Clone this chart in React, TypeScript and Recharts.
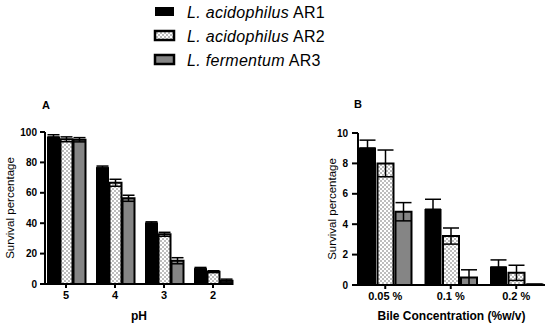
import React from 'react';
import { BarChart, Bar, XAxis, YAxis, ErrorBar } from 'recharts';

// ---- data ----
const seriesGenus = ['L.', 'L.', 'L.'];
const seriesSpecies = ['acidophilus', 'acidophilus', 'fermentum'];
const seriesStrain = ['AR1', 'AR2', 'AR3'];

const phCategories = ['5', '4', '3', '2'];
const phAR1 = [96.9, 76.8, 40.3, 10.3];
const phAR2 = [95.2, 66.6, 32.7, 8.1];
const phAR3 = [94.9, 56.4, 15.3, 2.2];
const phErrAR1 = [1.3, 0.8, 0.6, 0.6];
const phErrAR2 = [1.6, 2.3, 1.3, 0.6];
const phErrAR3 = [1.4, 2.0, 2.0, 1.0];
const phTicks = [0, 20, 40, 60, 80, 100];

const bileCategories = ['0.05 %', '0.1 %', '0.2 %'];
const bileAR1 = [9.03, 5.0, 1.2];
const bileAR2 = [8.0, 3.22, 0.8];
const bileAR3 = [4.82, 0.5, 0.03];
const bileErrAR1 = [0.5, 0.64, 0.45];
const bileErrAR2 = [0.88, 0.53, 0.5];
const bileErrAR3 = [0.6, 0.5, 0.03];
const bileTicks = [0, 2, 4, 6, 8, 10];

const phData = phCategories.map((c, i) => ({
  cat: c,
  a1: phAR1[i], a2: phAR2[i], a3: phAR3[i],
  e1: phErrAR1[i], e2: phErrAR2[i], e3: phErrAR3[i],
}));
const bileData = bileCategories.map((c, i) => ({
  cat: c,
  a1: bileAR1[i], a2: bileAR2[i], a3: bileAR3[i],
  e1: bileErrAR1[i], e2: bileErrAR2[i], e3: bileErrAR3[i],
}));

const FONT = '"Liberation Sans", Arial, sans-serif';
const fills = ['#000000', 'url(#checkA)', '#858585'];

const Pattern = ({ id }: { id: string }) => (
  <defs>
    <pattern id={id} width="4" height="4" patternUnits="userSpaceOnUse">
      <rect width="4" height="4" fill="#ffffff" />
      <rect width="2" height="2" fill="#bdbdbd" />
      <rect x="2" y="2" width="2" height="2" fill="#bdbdbd" />
    </pattern>
  </defs>
);

const yTitle = (cx: number) => (props: any) => {
  const vb = props.viewBox || { y: 0, height: 0 };
  const cy = vb.y + vb.height / 2;
  return (
    <text x={cx} y={cy} transform={`rotate(-90 ${cx} ${cy})`} textAnchor="middle"
      dominantBaseline="central" fontSize={11.5} fontFamily={FONT} fill="#000">
      Survival percentage
    </text>
  );
};

const tickY = { fill: '#000', fontSize: 10, fontWeight: 700, fontFamily: FONT };
const tickX = { fill: '#000', fontSize: 11, fontWeight: 700, fontFamily: FONT };

export default function App() {
  return (
    <div style={{ position: 'absolute', left: 0, top: 0, width: 550, height: 324, background: '#fff', fontFamily: FONT }}>
      {/* legend */}
      <svg width={550} height={75} style={{ position: 'absolute', left: 0, top: 0 }}>
        <Pattern id="checkL" />
        {seriesStrain.map((s, i) => {
          const cy = 11.5 + i * 24;
          return (
            <g key={s}>
              <rect x={155} y={cy - 4.5} width={19} height={9}
                fill={i === 1 ? 'url(#checkL)' : fills[i]} stroke="#000" strokeWidth={i === 0 ? 0 : 2.5} />
              <text x={187} y={cy} dominantBaseline="central" fontSize={16} letterSpacing={0.3}
                fontFamily={FONT} fill="#000">
                <tspan fontStyle="italic">{seriesGenus[i]} {seriesSpecies[i]}</tspan>
                <tspan> {s}</tspan>
              </text>
            </g>
          );
        })}
      </svg>

      {/* panel labels */}
      <div style={{ position: 'absolute', left: 42, top: 99, fontSize: 11, fontWeight: 700 }}>A</div>
      <div style={{ position: 'absolute', left: 354, top: 98, fontSize: 11, fontWeight: 700 }}>B</div>

      {/* Chart A */}
      <div style={{ position: 'absolute', left: 0, top: 0 }}>
        <BarChart width={250} height={324} data={phData}
          margin={{ top: 132, right: 17, left: 5, bottom: 0 }}
          barCategoryGap={6} barGap={1}>
          <Pattern id="checkA" />
          <XAxis dataKey="cat" height={40} padding={{ left: -3.5, right: -4.5 }}
            tick={tickX} tickSize={4} tickMargin={3}
            axisLine={{ stroke: '#000', strokeWidth: 2 }} tickLine={{ stroke: '#000', strokeWidth: 2 }}
            label={{ value: 'pH', position: 'insideBottom', offset: 4, fill: '#000', fontSize: 12, fontWeight: 700, fontFamily: FONT }} />
          <YAxis width={40} domain={[0, 100]} ticks={phTicks} interval={0}
            tick={tickY} tickSize={5} tickMargin={3}
            axisLine={{ stroke: '#000', strokeWidth: 2 }} tickLine={{ stroke: '#000', strokeWidth: 2 }}
            label={yTitle(10)} />
          <Bar dataKey="a1" name="L. acidophilus AR1" fill="#000" stroke="#000" strokeWidth={1} isAnimationActive={false}>
            <ErrorBar dataKey="e1" width={6} stroke="#000" strokeWidth={1.5} />
          </Bar>
          <Bar dataKey="a2" name="L. acidophilus AR2" fill="url(#checkA)" stroke="#000" strokeWidth={2} isAnimationActive={false}>
            <ErrorBar dataKey="e2" width={6} stroke="#000" strokeWidth={1.5} />
          </Bar>
          <Bar dataKey="a3" name="L. fermentum AR3" fill="#858585" stroke="#000" strokeWidth={2} isAnimationActive={false}>
            <ErrorBar dataKey="e3" width={6} stroke="#000" strokeWidth={1.5} />
          </Bar>
        </BarChart>
      </div>

      {/* Chart B */}
      <div style={{ position: 'absolute', left: 280, top: 0 }}>
        <BarChart width={270} height={324} data={bileData}
          margin={{ top: 133, right: 5, left: 38, bottom: 0 }}
          barCategoryGap={7} barGap={2}>
          <Pattern id="checkB" />
          <XAxis dataKey="cat" height={39} padding={{ left: -5.5, right: -4 }}
            tick={tickX} tickSize={4} tickMargin={3}
            axisLine={{ stroke: '#000', strokeWidth: 2 }} tickLine={{ stroke: '#000', strokeWidth: 2 }}
            label={{ value: 'Bile Concentration (%w/v)', position: 'insideBottom', offset: 4, fill: '#000', fontSize: 12, fontWeight: 700, fontFamily: FONT }} />
          <YAxis width={40} domain={[0, 10]} ticks={bileTicks} interval={0}
            tick={tickY} tickSize={6} tickMargin={4}
            axisLine={{ stroke: '#000', strokeWidth: 2 }} tickLine={{ stroke: '#000', strokeWidth: 2 }}
            label={yTitle(52)} />
          <Bar dataKey="a1" name="L. acidophilus AR1" fill="#000" stroke="#000" strokeWidth={1} isAnimationActive={false}>
            <ErrorBar dataKey="e1" width={8} stroke="#000" strokeWidth={1.5} />
          </Bar>
          <Bar dataKey="a2" name="L. acidophilus AR2" fill="url(#checkB)" stroke="#000" strokeWidth={2} isAnimationActive={false}>
            <ErrorBar dataKey="e2" width={8} stroke="#000" strokeWidth={1.5} />
          </Bar>
          <Bar dataKey="a3" name="L. fermentum AR3" fill="#858585" stroke="#000" strokeWidth={2} isAnimationActive={false}>
            <ErrorBar dataKey="e3" width={8} stroke="#000" strokeWidth={1.5} />
          </Bar>
        </BarChart>
      </div>
    </div>
  );
}
